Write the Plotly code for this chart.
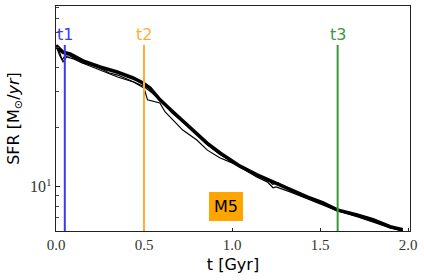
import plotly.graph_objects as go

# ---- data ----
t_main = [0.0, 0.02, 0.04, 0.08, 0.153, 0.25, 0.347, 0.4375, 0.494, 0.534, 0.591, 0.665, 0.761,
          0.858, 0.932, 1.045, 1.142, 1.233, 1.33, 1.426, 1.517, 1.597, 1.71, 1.80, 1.898, 1.97]
sfr_main = [51.3, 49.0, 47.5, 46.6, 43.0, 40.1, 37.8, 35.3, 33.3, 31.4, 27.4, 23.8, 20.0,
            16.6, 14.8, 12.7, 11.5, 10.6, 9.66, 8.9, 8.3, 7.66, 7.23, 6.83, 6.3, 6.08]

t_run1 = [0.0, 0.02, 0.035, 0.05, 0.08, 0.15, 0.25, 0.35, 0.44, 0.5, 0.52, 0.59, 0.62, 0.665,
          0.72, 0.80, 0.86, 0.93, 1.0, 1.05, 1.14, 1.2, 1.233, 1.25, 1.33, 1.43, 1.52, 1.6,
          1.71, 1.8, 1.9, 1.97]
sfr_run1 = [51.7, 47.7, 43.5, 45.5, 45.5, 42.0, 38.7, 35.7, 33.7, 31.4, 27.4, 26.4, 23.8, 21.7,
            19.3, 17.2, 15.3, 14.0, 13.2, 12.5, 11.2, 10.6, 9.9, 10.0, 9.44, 8.7, 8.1, 7.57,
            7.07, 6.67, 6.22, 6.01]

t_run2 = [0.0, 0.02, 0.04, 0.06, 0.1, 0.15, 0.2, 0.25, 0.3, 0.35, 0.4, 0.45, 0.5, 0.55, 0.6,
          0.66, 0.76, 0.86, 0.93, 1.05, 1.14, 1.2, 1.23, 1.26, 1.33, 1.43, 1.52, 1.6, 1.71,
          1.8, 1.9, 1.97]
sfr_run2 = [51.0, 46.0, 42.5, 45.0, 44.0, 42.0, 41.0, 39.5, 37.5, 36.5, 35.0, 33.5, 32.0, 29.5,
            27.0, 23.5, 19.8, 16.3, 14.6, 12.6, 11.4, 10.9, 10.3, 10.5, 9.6, 8.8, 8.2, 7.6,
            7.15, 6.75, 6.25, 6.02]

marker_names = ["t1", "t2", "t3"]
marker_times = [0.05, 0.5, 1.6]
marker_colors = ["#3a3af0", "#ffad33", "#3a9a3a"]

x_ticks = [0.0, 0.5, 1.0, 1.5, 2.0]
x_ticktext = ["0.0", "0.5", "1.0", "1.5", "2.0"]
y_major = [10]
y_major_text = ["10<sup>1</sup>"]
y_minor = [6, 7, 8, 9, 20, 30, 40, 50, 60, 70, 80]

fig = go.Figure()
fig.add_trace(go.Scatter(x=t_run1, y=sfr_run1, mode="lines",
                         line=dict(color="black", width=1.2), showlegend=False))
fig.add_trace(go.Scatter(x=t_run2, y=sfr_run2, mode="lines",
                         line=dict(color="black", width=1.2), showlegend=False))
fig.add_trace(go.Scatter(x=t_main, y=sfr_main, mode="lines",
                         line=dict(color="black", width=3.6), showlegend=False))

for name, tt, col in zip(marker_names, marker_times, marker_colors):
    fig.add_shape(type="line", xref="x", yref="paper", x0=tt, x1=tt, y0=0, y1=0.827,
                  line=dict(color=col, width=2))
    fig.add_annotation(x=tt, y=0.875, xref="x", yref="paper", text=name, showarrow=False,
                       xanchor="center", yanchor="middle",
                       font=dict(family="DejaVu Sans", size=16, color=col))

fig.add_annotation(x=0.966, y=0.111, xref="x", yref="paper", text="M5", showarrow=False,
                   xanchor="center", yanchor="middle",
                   font=dict(family="DejaVu Sans", size=16, color="black"),
                   bgcolor="#ffa500", borderpad=4, bordercolor="#ffa500")

fig.update_layout(
    width=424, height=280,
    margin=dict(l=56, r=14, t=6, b=49, autoexpand=False),
    paper_bgcolor="white", plot_bgcolor="white",
    xaxis=dict(range=[0, 2.011], tickvals=x_ticks, ticktext=x_ticktext, automargin=False,
               ticks="inside", ticklen=3, tickcolor="#222",
               showgrid=False, zeroline=False, showline=True, mirror=True,
               linecolor="#222", linewidth=1.2,
               tickfont=dict(family="Liberation Serif", size=15, color="#333"),
               title=dict(text="t [Gyr]", font=dict(family="DejaVu Sans", size=16, color="black"),
                          standoff=6)),
    yaxis=dict(type="log", range=[0.778, 1.9096], tickvals=y_major, ticktext=y_major_text,
               automargin=False,
               ticks="inside", ticklen=4, tickcolor="#222",
               minor=dict(tickvals=y_minor, ticks="inside", ticklen=3, tickcolor="#444",
                          showgrid=False),
               showgrid=False, zeroline=False, showline=True, mirror=True,
               linecolor="#222", linewidth=1.2,
               tickfont=dict(family="Liberation Serif", size=16, color="#333"),
               title=dict(text="SFR [M<sub>⊙</sub>/<i>yr</i>]",
                          font=dict(family="DejaVu Sans", size=16, color="black"),
                          standoff=6)),
)

fig.write_html("out.html", config={"displayModeBar": False},
               post_script="document.body.style.margin='0';document.body.style.padding='0';")
